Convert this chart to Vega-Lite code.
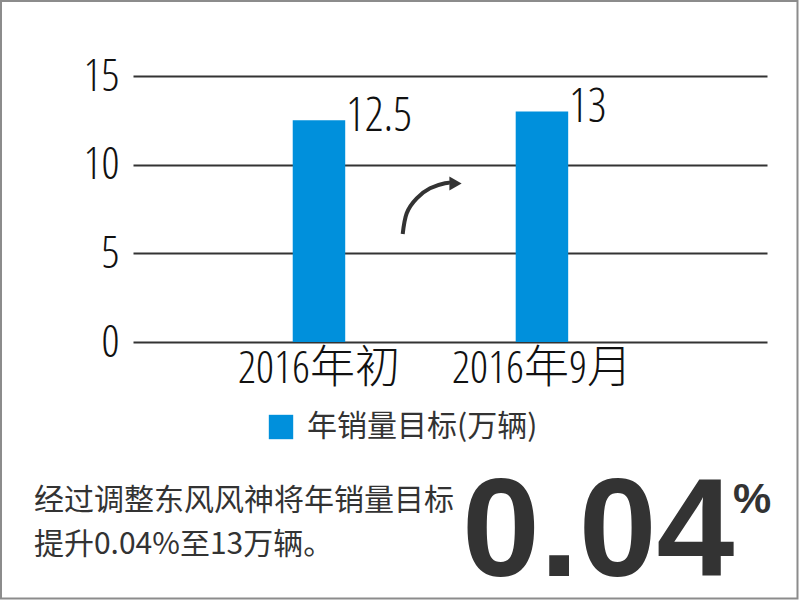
{
  "$schema": "https://vega.github.io/schema/vega-lite/v6.json",
  "width": 634,
  "height": 266,
  "autosize": "none",
  "padding": {"left": 133, "top": 76, "right": 33, "bottom": 258},
  "background": "#ffffff",
  "config": {"view": {"stroke": null}},
  "datasets": {
    "bars": [
      {"period": "2016年初", "value": 12.5, "series": "年销量目标(万辆)"},
      {"period": "2016年9月", "value": 13, "series": "年销量目标(万辆)"}
    ],
    "arrow": [
      {"t": 0.4254, "v": 6.09},
      {"t": 0.4317, "v": 7.26},
      {"t": 0.4475, "v": 8.10},
      {"t": 0.4685, "v": 8.67},
      {"t": 0.4921, "v": 8.95},
      {"t": 0.5, "v": 8.97}
    ]
  },
  "layer": [
    {
      "data": {"name": "bars"},
      "layer": [
        {
          "mark": {"type": "bar"},
          "encoding": {
            "x": {
              "field": "period", "type": "nominal", "sort": null,
              "scale": {"paddingInner": 0.7646, "paddingOuter": 0.804, "align": 0.4455},
              "axis": {"title": null, "domain": false, "ticks": false, "tickSize": 0, "labelAngle": 0, "labelPadding": 4, "labelLimit": 400, "labelFont": "Open Sans Condensed Light, Roboto, Noto Sans CJK SC", "labelFontWeight": 300, "labelFontSize": 45, "labelColor": "#111111", "grid": false}
            },
            "y": {
              "field": "value", "type": "quantitative",
              "scale": {"domain": [0, 15], "nice": false},
              "axis": {"title": null, "values": [0, 5, 10, 15], "grid": true, "gridColor": "#333333", "gridWidth": 2, "domain": false, "ticks": false, "tickSize": 0, "labelPadding": 14, "labelFont": "Open Sans Condensed Light, Roboto", "labelFontWeight": 300, "labelFontSize": 45, "labelColor": "#111111"}
            },
            "color": {
              "field": "series", "type": "nominal",
              "scale": {"range": ["#0090DC"]},
              "legend": {"title": null, "orient": "none", "legendX": 133, "legendY": 336, "padding": 0, "symbolType": "square", "symbolSize": 595, "symbolStrokeWidth": 0, "labelFont": "Noto Sans CJK SC", "labelFontSize": 30, "labelColor": "#333333", "labelOffset": 11, "labelLimit": 400}
            }
          }
        },
        {
          "mark": {"type": "text", "align": "left", "baseline": "alphabetic", "dx": 27, "dy": 11, "font": "Open Sans Condensed Light, Roboto", "fontWeight": 300, "fontSize": 47, "color": "#111111"},
          "encoding": {
            "x": {
              "field": "period", "type": "nominal", "sort": null,
              "scale": {"paddingInner": 0.7646, "paddingOuter": 0.804, "align": 0.4455},
              "axis": {"title": null, "domain": false, "ticks": false, "tickSize": 0, "labelAngle": 0, "labelPadding": 4, "labelLimit": 400, "labelFont": "Open Sans Condensed Light, Roboto, Noto Sans CJK SC", "labelFontWeight": 300, "labelFontSize": 45, "labelColor": "#111111", "grid": false}
            },
            "y": {
              "field": "value", "type": "quantitative",
              "scale": {"domain": [0, 15], "nice": false},
              "axis": {"title": null, "values": [0, 5, 10, 15], "grid": true, "gridColor": "#333333", "gridWidth": 2, "domain": false, "ticks": false, "tickSize": 0, "labelPadding": 14, "labelFont": "Open Sans Condensed Light, Roboto", "labelFontWeight": 300, "labelFontSize": 45, "labelColor": "#111111"}
            },
            "text": {"field": "value", "type": "quantitative"}
          }
        }
      ]
    },
    {
      "layer": [
        {
          "data": {"name": "arrow"},
          "mark": {"type": "line", "interpolate": "natural", "color": "#333333", "strokeWidth": 4},
          "encoding": {
            "x": {"field": "t", "type": "quantitative", "scale": {"domain": [0, 1], "nice": false, "zero": false}, "axis": null},
            "y": {"field": "v", "type": "quantitative", "scale": {"domain": [0, 15], "nice": false}, "axis": null}
          }
        },
        {
          "data": {"values": [{"part": "arrowhead"}]},
          "mark": {"type": "point", "shape": "triangle-right", "filled": true, "size": 200, "color": "#333333", "opacity": 1},
          "encoding": {
            "x": {"datum": 0.5087, "type": "quantitative", "scale": {"domain": [0, 1], "nice": false, "zero": false}, "axis": null},
            "y": {"datum": 8.938, "type": "quantitative", "scale": {"domain": [0, 15], "nice": false}, "axis": null}
          }
        },
        {
          "data": {"values": [{"note": "经过调整东风风神将年销量目标\n提升0.04%至13万辆。"}]},
          "mark": {"type": "text", "align": "left", "baseline": "alphabetic", "lineBreak": "\n", "lineHeight": 43.5, "font": "Noto Sans CJK SC", "fontSize": 30, "color": "#333333"},
          "encoding": {
            "x": {"datum": -0.1562, "type": "quantitative", "scale": {"domain": [0, 1], "nice": false, "zero": false}, "axis": null},
            "y": {"datum": -9.474, "type": "quantitative", "scale": {"domain": [0, 15], "nice": false}, "axis": null},
            "text": {"field": "note", "type": "nominal"}
          }
        },
        {
          "data": {"values": [{"note": "0.04"}]},
          "mark": {"type": "text", "align": "left", "baseline": "alphabetic", "font": "Liberation Sans", "fontWeight": "bold", "fontSize": 140, "color": "#333333"},
          "encoding": {
            "x": {"datum": 0.5189, "type": "quantitative", "scale": {"domain": [0, 1], "nice": false, "zero": false}, "axis": null},
            "y": {"datum": -13.22, "type": "quantitative", "scale": {"domain": [0, 15], "nice": false}, "axis": null},
            "text": {"field": "note", "type": "nominal"}
          }
        },
        {
          "data": {"values": [{"note": "%"}]},
          "mark": {"type": "text", "align": "left", "baseline": "alphabetic", "font": "Liberation Sans", "fontWeight": "bold", "fontSize": 43, "color": "#333333"},
          "encoding": {
            "x": {"datum": 0.9464, "type": "quantitative", "scale": {"domain": [0, 1], "nice": false, "zero": false}, "axis": null},
            "y": {"datum": -9.643, "type": "quantitative", "scale": {"domain": [0, 15], "nice": false}, "axis": null},
            "text": {"field": "note", "type": "nominal"}
          }
        },
        {
          "data": {"values": [{"part": "frame"}]},
          "mark": {"type": "rect", "fillOpacity": 0, "stroke": "#8c8c8c", "strokeWidth": 2},
          "encoding": {
            "x": {"datum": -0.2082, "type": "quantitative", "scale": {"domain": [0, 1], "nice": false, "zero": false}, "axis": null},
            "x2": {"datum": 1.0481},
            "y": {"datum": 19.23, "type": "quantitative", "scale": {"domain": [0, 15], "nice": false}, "axis": null},
            "y2": {"datum": -14.464}
          }
        }
      ]
    }
  ],
  "resolve": {"scale": {"x": "independent", "y": "independent"}, "axis": {"x": "independent", "y": "independent"}}
}
